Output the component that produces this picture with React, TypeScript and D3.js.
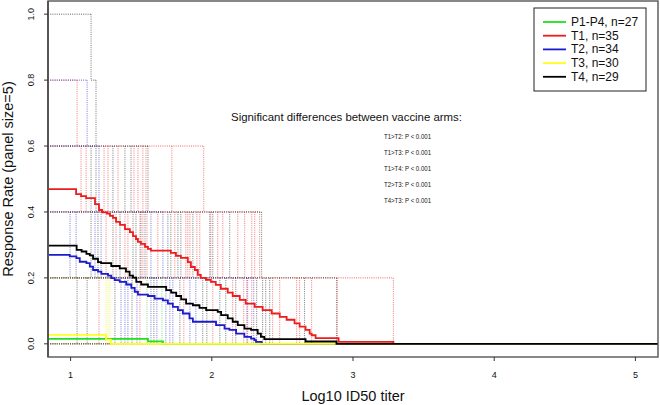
import React from 'react';
import * as d3 from 'd3';

// ---------- data ----------
const xLim = [1, 5];
const yLim = [0, 1];
const xTicks = [1, 2, 3, 4, 5];
const yTicks = [0, 0.2, 0.4, 0.6, 0.8, 1.0];
const yTickLabels = ['0.0', '0.2', '0.4', '0.6', '0.8', '1.0'];

const groupNames = ['P1-P4', 'T1', 'T2', 'T3', 'T4'];
const groupN = [27, 35, 34, 30, 29];

// mean response curves: levels[0] holds from the left edge, levels[i+1] from steps[i]
const p14Steps = [1.548, 1.654];
const p14Levels = [0.0148, 0.0074, 0];

const t1Steps = [1.039, 1.074, 1.110, 1.173, 1.201, 1.223, 1.258, 1.279, 1.300, 1.322, 1.350, 1.385, 1.420, 1.442, 1.463, 1.477, 1.498, 1.527, 1.548, 1.569, 1.710, 1.746, 1.781, 1.830, 1.852, 1.880, 1.901, 1.922, 1.958, 1.993, 2.028, 2.064, 2.113, 2.148, 2.198, 2.240, 2.304, 2.360, 2.424, 2.481, 2.530, 2.586, 2.622, 2.664, 2.693, 2.707, 2.735, 2.898, 3.286];
const t1Levels = [0.469, 0.454, 0.448, 0.442, 0.424, 0.406, 0.399, 0.395, 0.388, 0.382, 0.370, 0.361, 0.348, 0.339, 0.327, 0.318, 0.309, 0.303, 0.294, 0.288, 0.283, 0.276, 0.267, 0.261, 0.248, 0.233, 0.224, 0.209, 0.200, 0.194, 0.188, 0.179, 0.167, 0.155, 0.145, 0.133, 0.122, 0.112, 0.102, 0.092, 0.082, 0.073, 0.062, 0.052, 0.042, 0.031, 0.026, 0.017, 0.006, 0];

const t2Steps = [0.994, 1.041, 1.065, 1.112, 1.136, 1.159, 1.194, 1.218, 1.265, 1.288, 1.312, 1.348, 1.394, 1.430, 1.454, 1.477, 1.548, 1.595, 1.654, 1.689, 1.724, 1.760, 1.795, 1.842, 1.866, 2.030, 2.090, 2.125, 2.172, 2.231, 2.278, 2.302, 2.313, 2.353];
const t2Levels = [0.270, 0.265, 0.260, 0.249, 0.245, 0.234, 0.224, 0.219, 0.212, 0.207, 0.199, 0.193, 0.188, 0.180, 0.170, 0.158, 0.149, 0.145, 0.137, 0.132, 0.122, 0.112, 0.102, 0.092, 0.077, 0.067, 0.057, 0.046, 0.042, 0.031, 0.021, 0.016, 0.011, 0.006, 0];

const t3Steps = [1.251, 1.286];
const t3Levels = [0.027, 0.013, 0];

const t4Steps = [1.043, 1.078, 1.112, 1.136, 1.159, 1.194, 1.216, 1.288, 1.348, 1.392, 1.418, 1.442, 1.465, 1.500, 1.548, 1.677, 1.712, 1.748, 1.783, 1.818, 1.866, 1.913, 1.960, 2.042, 2.066, 2.113, 2.148, 2.184, 2.231, 2.278, 2.325, 2.348, 2.372, 2.664, 2.883];
const t4Levels = [0.298, 0.285, 0.280, 0.273, 0.268, 0.258, 0.248, 0.245, 0.236, 0.229, 0.219, 0.207, 0.201, 0.188, 0.180, 0.173, 0.163, 0.155, 0.145, 0.135, 0.122, 0.117, 0.109, 0.102, 0.097, 0.087, 0.077, 0.067, 0.057, 0.046, 0.042, 0.031, 0.021, 0.014, 0.007, 0];

// individual subject drops (dotted), by band top level
const bandTops = [1.0, 0.8, 0.6, 0.4, 0.2];
const p14Drops = [[], [], [], [], [1.541, 1.647]];
const t1Drops = [
  [],
  [1.046],
  [1.074, 1.110, 1.237, 1.265, 1.336, 1.449, 1.477, 1.512, 1.534, 1.717, 1.943],
  [1.251, 1.322, 1.385, 1.406, 1.491, 1.512, 1.541, 1.618, 1.738, 1.816, 1.830, 1.845, 1.894, 1.915, 1.993, 2.042, 2.078, 2.184, 2.233, 2.283, 2.304, 2.339],
  [1.201, 1.491, 1.802, 2.007, 2.148, 2.226, 2.247, 2.283, 2.431, 2.481, 2.601, 2.622, 2.707, 2.890, 3.286],
];
const t2Drops = [
  [],
  [1.117],
  [1.201],
  [0.996, 1.039, 1.173, 1.216, 1.569, 1.654],
  [1.357, 1.385, 1.406, 1.470, 1.569, 1.611, 1.675, 1.703, 1.724, 1.845, 1.887, 2.254, 2.297],
];
const t3Drops = [[], [], [], [], [1.251, 1.265, 1.279]];
const t4Drops = [
  [1.145],
  [1.180],
  [1.145, 1.180, 1.300, 1.385, 1.428, 1.548],
  [1.145, 1.194, 1.300, 1.350, 1.442, 1.463, 1.498, 1.527, 1.689, 1.710, 1.760, 1.781, 1.866, 1.986, 2.007, 2.127, 2.353],
  [1.046, 1.117, 1.314, 1.435, 1.590, 1.774, 1.936, 1.965, 2.057, 2.099, 2.170, 2.318, 2.360, 2.382, 2.410, 2.657, 2.883],
];
// start of the dotted horizontal at each band top (null = left edge)
const t4HStart = [null, 1.145, null, null, null];

const annotationTitle = 'Significant differences between vaccine arms:';
const annotationLines = ['T1>T2: P < 0.001', 'T1>T3: P < 0.001', 'T1>T4: P < 0.001', 'T2>T3: P < 0.001', 'T4>T3: P < 0.001'];
const xTitle = 'Log10 ID50 titer';
const yTitle = 'Response Rate (panel size=5)';

// ---------- styles ----------
const colors = ['#1ee01e', '#ee1c1c', '#1c1ccc', '#ffff22', '#000000'];
const dotColors = ['#33cc33', '#ee2222', '#2222cc', '#eeee00', '#222222'];
const FONT = '"Liberation Sans", Arial, Helvetica, sans-serif';

const W = 660, H = 405;
const M = { left: 48, right: 658, top: 1, bottom: 357 };

export default function App() {
  const xPad = (xLim[1] - xLim[0]) * 0.04;
  const yPad = (yLim[1] - yLim[0]) * 0.04;
  const x = d3.scaleLinear().domain([xLim[0] - xPad, xLim[1] + xPad]).range([M.left, M.right]);
  const y = d3.scaleLinear().domain([yLim[0] - yPad, yLim[1] + yPad]).range([M.bottom, M.top]);
  const [dx0, dx1] = x.domain();

  const curves = [
    [p14Steps, p14Levels],
    [t1Steps, t1Levels],
    [t2Steps, t2Levels],
    [t3Steps, t3Levels],
    [t4Steps, t4Levels],
  ];
  const drops = [p14Drops, t1Drops, t2Drops, t3Drops, t4Drops];
  const hStarts = [null, null, null, null, t4HStart];

  const line = d3.line<[number, number]>().x(d => x(d[0])).y(d => y(d[1])).curve(d3.curveStepAfter);

  const curvePath = (steps: number[], levels: number[]) => {
    const pts: [number, number][] = [[dx0, levels[0]]];
    steps.forEach((s, i) => pts.push([s, levels[i + 1]]));
    pts.push([dx1, levels[levels.length - 1]]);
    return line(pts) || '';
  };

  const dash = '1 1.2';
  const dotted: JSX.Element[] = [];
  drops.forEach((g, gi) => {
    dotted.push(
      <line key={`z-${gi}`} x1={x(dx0)} x2={x(dx1)} y1={y(0)} y2={y(0)}
        stroke={dotColors[gi]} strokeWidth={1} strokeDasharray={dash} opacity={0.6} />
    );
    g.forEach((arr, bi) => {
      if (!arr.length) return;
      const top = bandTops[bi];
      const hs = hStarts[gi] && hStarts[gi]![bi] != null ? hStarts[gi]![bi]! : dx0;
      const maxX = d3.max(arr)!;
      dotted.push(
        <line key={`h-${gi}-${bi}`} x1={x(hs)} x2={x(maxX)} y1={y(top)} y2={y(top)}
          stroke={dotColors[gi]} strokeWidth={1} strokeDasharray={dash} opacity={0.7} />
      );
      arr.forEach((v, vi) => {
        dotted.push(
          <line key={`v-${gi}-${bi}-${vi}`} x1={x(v)} x2={x(v)} y1={y(top)} y2={y(top - 0.2)}
            stroke={dotColors[gi]} strokeWidth={1} strokeDasharray={dash} opacity={0.6} />
        );
      });
    });
  });

  const legendX = 534, legendY = 8, legendW = 112, legendH = 83;

  return (
    <div style={{ position: 'absolute', left: 0, top: 0, width: W, height: H, background: '#fff' }}>
      <svg width={W} height={H} style={{ display: 'block' }} fontFamily={FONT}>
        <defs>
          <clipPath id="plotclip">
            <rect x={M.left} y={M.top} width={M.right - M.left} height={M.bottom - M.top} />
          </clipPath>
        </defs>
        <g clipPath="url(#plotclip)">
          {dotted}
          {curves.map(([s, l], i) => (
            <path key={`c-${i}`} d={curvePath(s, l)} fill="none" stroke={colors[i]} strokeWidth={1.8} />
          ))}
        </g>
        {/* frame */}
        <rect x={M.left} y={M.top} width={M.right - M.left} height={M.bottom - M.top}
          fill="none" stroke="#555" strokeWidth={1.4} />
        <line x1={M.left} x2={M.left} y1={M.top} y2={M.bottom} stroke="#555" strokeWidth={2} />
        {/* x axis */}
        {xTicks.map(t => (
          <g key={`xt-${t}`}>
            <line x1={x(t)} x2={x(t)} y1={M.bottom} y2={M.bottom + 4} stroke="#333" strokeWidth={1} />
            <text x={x(t)} y={378} fontSize={9} textAnchor="middle" fill="#111">{t}</text>
          </g>
        ))}
        {/* y axis */}
        {yTicks.map((t, i) => (
          <g key={`yt-${t}`}>
            <line x1={M.left} x2={M.left - 4} y1={y(t)} y2={y(t)} stroke="#333" strokeWidth={1} />
            <text transform={`translate(34,${y(t)}) rotate(-90)`} fontSize={9} textAnchor="middle" fill="#111">{yTickLabels[i]}</text>
          </g>
        ))}
        <text x={(M.left + M.right) / 2} y={401} fontSize={14.5} textAnchor="middle" fill="#111">{xTitle}</text>
        <text transform={`translate(13,${(M.top + M.bottom) / 2}) rotate(-90)`} fontSize={14.5} textAnchor="middle" fill="#111">{yTitle}</text>

        {/* annotation */}
        <text x={346.5} y={121} fontSize={11.4} textAnchor="middle" fill="#111">{annotationTitle}</text>
        {annotationLines.map((t, i) => (
          <text key={`an-${i}`} x={384} y={138.5 + i * 16} fontSize={7.6} fill="#111"
            textLength={47} lengthAdjust="spacingAndGlyphs">{t}</text>
        ))}

        {/* legend */}
        <rect x={legendX} y={legendY} width={legendW} height={legendH} fill="#fff" stroke="#222" strokeWidth={1} />
        {groupNames.map((g, i) => (
          <g key={`lg-${g}`}>
            <line x1={543} x2={566} y1={22 + i * 13.7} y2={22 + i * 13.7} stroke={colors[i]} strokeWidth={1.8} />
            <text x={571} y={26 + i * 13.7} fontSize={12} fill="#111">{`${g}, n=${groupN[i]}`}</text>
          </g>
        ))}
      </svg>
    </div>
  );
}
